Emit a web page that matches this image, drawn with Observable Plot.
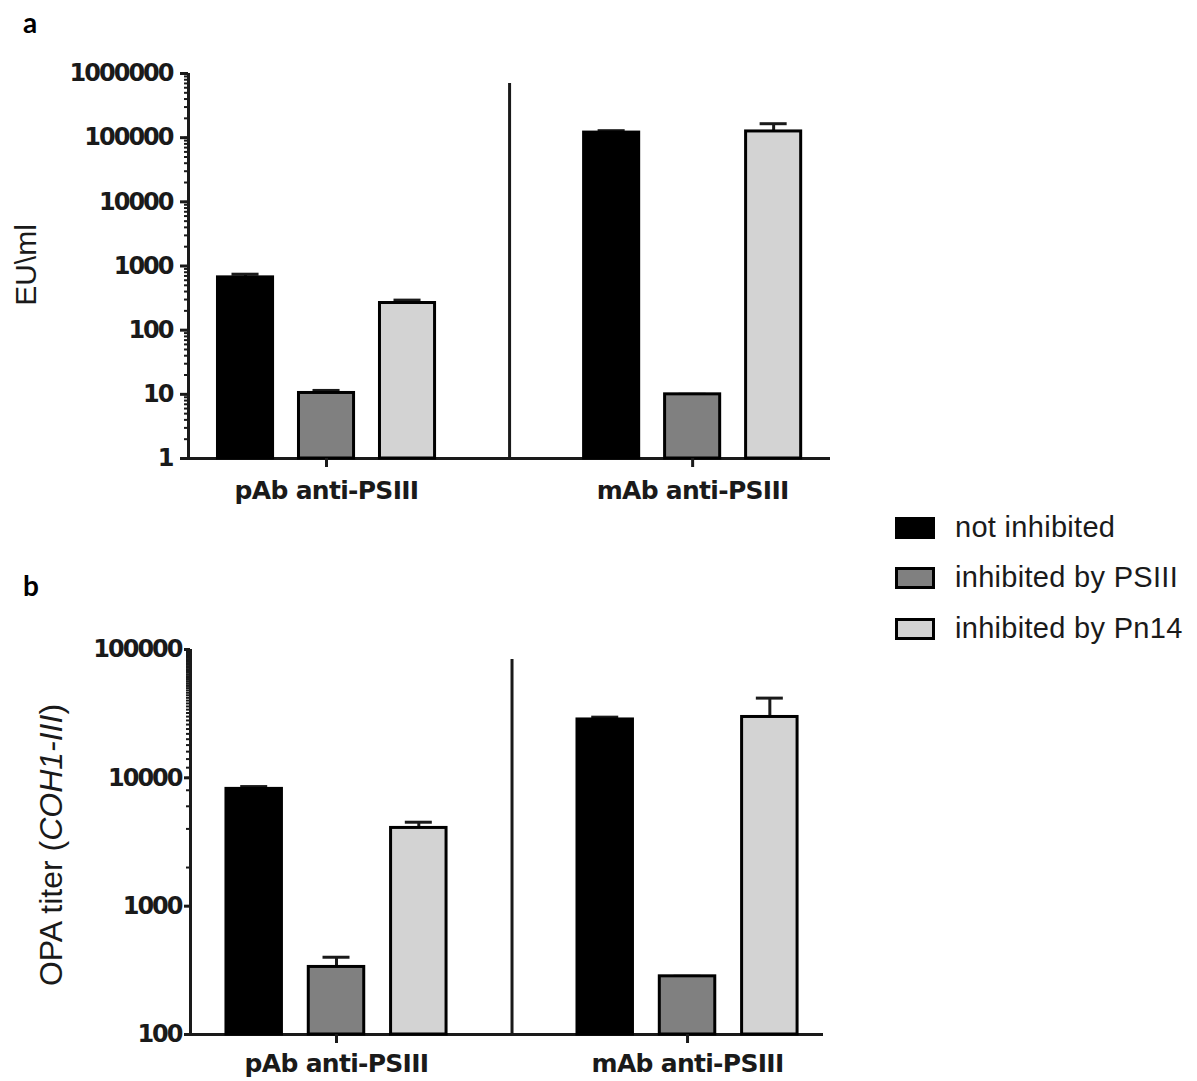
<!DOCTYPE html>
<html>
<head>
<meta charset="utf-8">
<script src="https://cdn.jsdelivr.net/npm/d3@7"></script>
<script src="https://cdn.jsdelivr.net/npm/@observablehq/plot@0.6"></script>
<style>
  body { margin: 0; background: #fff; }
  #fig { position: relative; width: 1197px; height: 1081px; overflow: hidden; background: #fff; }
  .plotbox { position: absolute; left: 0; }
  .plotbox svg text { font-family: "DejaVu Sans", sans-serif; }
  .plotbox svg g[aria-label="y-axis tick label"] text { letter-spacing: -2px; }
  .plotbox svg g[aria-label="x-axis tick label"] text { letter-spacing: -0.7px; }
  .letter { position: absolute; font-family: Lato, "Open Sans", sans-serif; font-weight: 700; font-size: 28px; line-height: 1; color: #000; }
  .ytitle { position: absolute; white-space: nowrap; font-family: "Liberation Sans", Arial, sans-serif; line-height: 1; color: #1a1a1a; transform: translate(-50%, -50%) rotate(-90deg); }
  .sw { position: absolute; box-sizing: border-box; border: 3px solid #000; }
  .lt { position: absolute; white-space: nowrap; font-family: "Liberation Sans", Arial, sans-serif; font-size: 29px; line-height: 29px; color: #1a1a1a; letter-spacing: 0.3px; }
</style>
</head>
<body>
<div id="fig"></div>
<script>
// ---------------- data ----------------
const groups = ["pAb anti-PSIII", "mAb anti-PSIII"];
const conditions = ["not inhibited", "inhibited by PSIII", "inhibited by Pn14"];
const fills = ["#000000", "#808080", "#d3d3d3"];

// panel a: EU\ml (mean, and upper end of error bar)
const euPAb = [665, 10.5, 265];
const euPAbUpper = [745, 11.5, 294];
const euMAb = [120000, 10, 125000];
const euMAbUpper = [128500, 10, 165000];
const euTicks = [1, 10, 100, 1000, 10000, 100000, 1000000];

// panel b: OPA titer (COH1-III)
const opaPAb = [8200, 336, 4070];
const opaPAbUpper = [8550, 400, 4510];
const opaMAb = [28500, 284, 29800];
const opaMAbUpper = [29700, 284, 41800];
const opaTicks = [100, 1000, 10000, 100000];

// ---------------- drawing ----------------
const fig = document.getElementById("fig");
const FONT = "'DejaVu Sans', sans-serif";

function panelPlot(cfg) {
  const rows = [];
  groups.forEach((g, gi) => conditions.forEach((c, si) => {
    rows.push({
      group: g, condition: c,
      mean: cfg.means[gi][si], upper: cfg.uppers[gi][si],
      xc: gi * cfg.groupStep + (si - 1)
    });
  }));
  const half = cfg.barWidth / 2;
  const capHalf = cfg.capHalf;
  const y0 = cfg.yTicks[0];
  return Plot.plot({
    width: cfg.width, height: cfg.height,
    marginLeft: cfg.ml, marginRight: cfg.mr, marginTop: cfg.mt, marginBottom: cfg.mb,
    x: {domain: cfg.xDomain, axis: null},
    y: {type: "log", domain: [y0, cfg.yTicks[cfg.yTicks.length - 1]], axis: null},
    color: {domain: conditions, range: fills},
    style: {fontFamily: FONT, color: "#1a1a1a", background: "transparent", overflow: "visible"},
    marks: [
      Plot.axisY({ticks: 60, tickSize: 4, tickFormat: () => "", strokeWidth: 2, label: null}),
      Plot.axisY({ticks: cfg.yTicks, tickSize: cfg.majorTick, tickPadding: cfg.yPad, tickFormat: d => String(d),
        strokeWidth: 3, fontSize: 24, fontWeight: "bold", label: null}),
      Plot.ruleX([cfg.xDomain[0]], {strokeWidth: 3}),
      Plot.ruleY([y0], {strokeWidth: 3}),
      Plot.ruleX([cfg.groupStep / 2], {strokeWidth: 3, insetTop: 10}),
      Plot.ruleX(rows, {x: "xc", y1: "mean", y2: "upper", strokeWidth: 3}),
      Plot.ruleY(rows, {y: "upper", x1: d => d.xc - capHalf, x2: d => d.xc + capHalf, strokeWidth: 3}),
      Plot.rect(rows, {x1: d => d.xc - half, x2: d => d.xc + half, y1: y0, y2: "mean",
        fill: "condition", stroke: "#000", strokeWidth: 3}),
      Plot.axisX({ticks: groups.map((g, i) => i * cfg.groupStep),
        tickFormat: d => groups[Math.round(d / cfg.groupStep)],
        tickSize: 9, tickPadding: cfg.xPad, strokeWidth: 3, fontSize: 25, fontWeight: "bold", label: null})
    ]
  });
}

const plotA = panelPlot({
  width: 860, height: 540, ml: 188, mr: 30, mt: 73, mb: 82,
  xDomain: [-1.704, 6.222], groupStep: 4.52, barWidth: 0.68, capHalf: 0.167,
  means: [euPAb, euMAb], uppers: [euPAbUpper, euMAbUpper], yTicks: euTicks,
  majorTick: 8, yPad: 8, xPad: 14
});
const plotB = panelPlot({
  width: 860, height: 521, ml: 190, mr: 37, mt: 89, mb: 47,
  xDomain: [-1.774, 5.917], groupStep: 4.265, barWidth: 0.674, capHalf: 0.164,
  means: [opaPAb, opaMAb], uppers: [opaPAbUpper, opaMAbUpper], yTicks: opaTicks,
  majorTick: 6, yPad: 3, xPad: 11
});

const boxA = document.createElement("div");
boxA.className = "plotbox"; boxA.style.top = "0px"; boxA.appendChild(plotA);
const boxB = document.createElement("div");
boxB.className = "plotbox"; boxB.style.top = "560px"; boxB.appendChild(plotB);
fig.appendChild(boxA);
fig.appendChild(boxB);

// panel letters
function addDiv(cls, html, css) {
  const d = document.createElement("div");
  d.className = cls; d.innerHTML = html;
  Object.assign(d.style, css);
  fig.appendChild(d);
  return d;
}
addDiv("letter", "a", {left: "23px", top: "8px"});
addDiv("letter", "b", {left: "23px", top: "571px"});

// y-axis titles
addDiv("ytitle", "EU\\ml", {left: "26px", top: "265px", fontSize: "30px"});
addDiv("ytitle", "OPA titer (<i>COH1-III</i>)", {left: "51px", top: "845px", fontSize: "32px"});

// legend
const legendTop = [517, 567, 618];
conditions.forEach((c, i) => {
  const sw = document.createElement("div");
  sw.className = "sw";
  Object.assign(sw.style, {left: "895px", top: legendTop[i] + "px", width: "40px", height: "22px", background: fills[i]});
  fig.appendChild(sw);
  const t = document.createElement("div");
  t.className = "lt";
  t.textContent = c;
  Object.assign(t.style, {left: "955px", top: (legendTop[i] - 4) + "px"});
  fig.appendChild(t);
});
</script>
</body>
</html>
